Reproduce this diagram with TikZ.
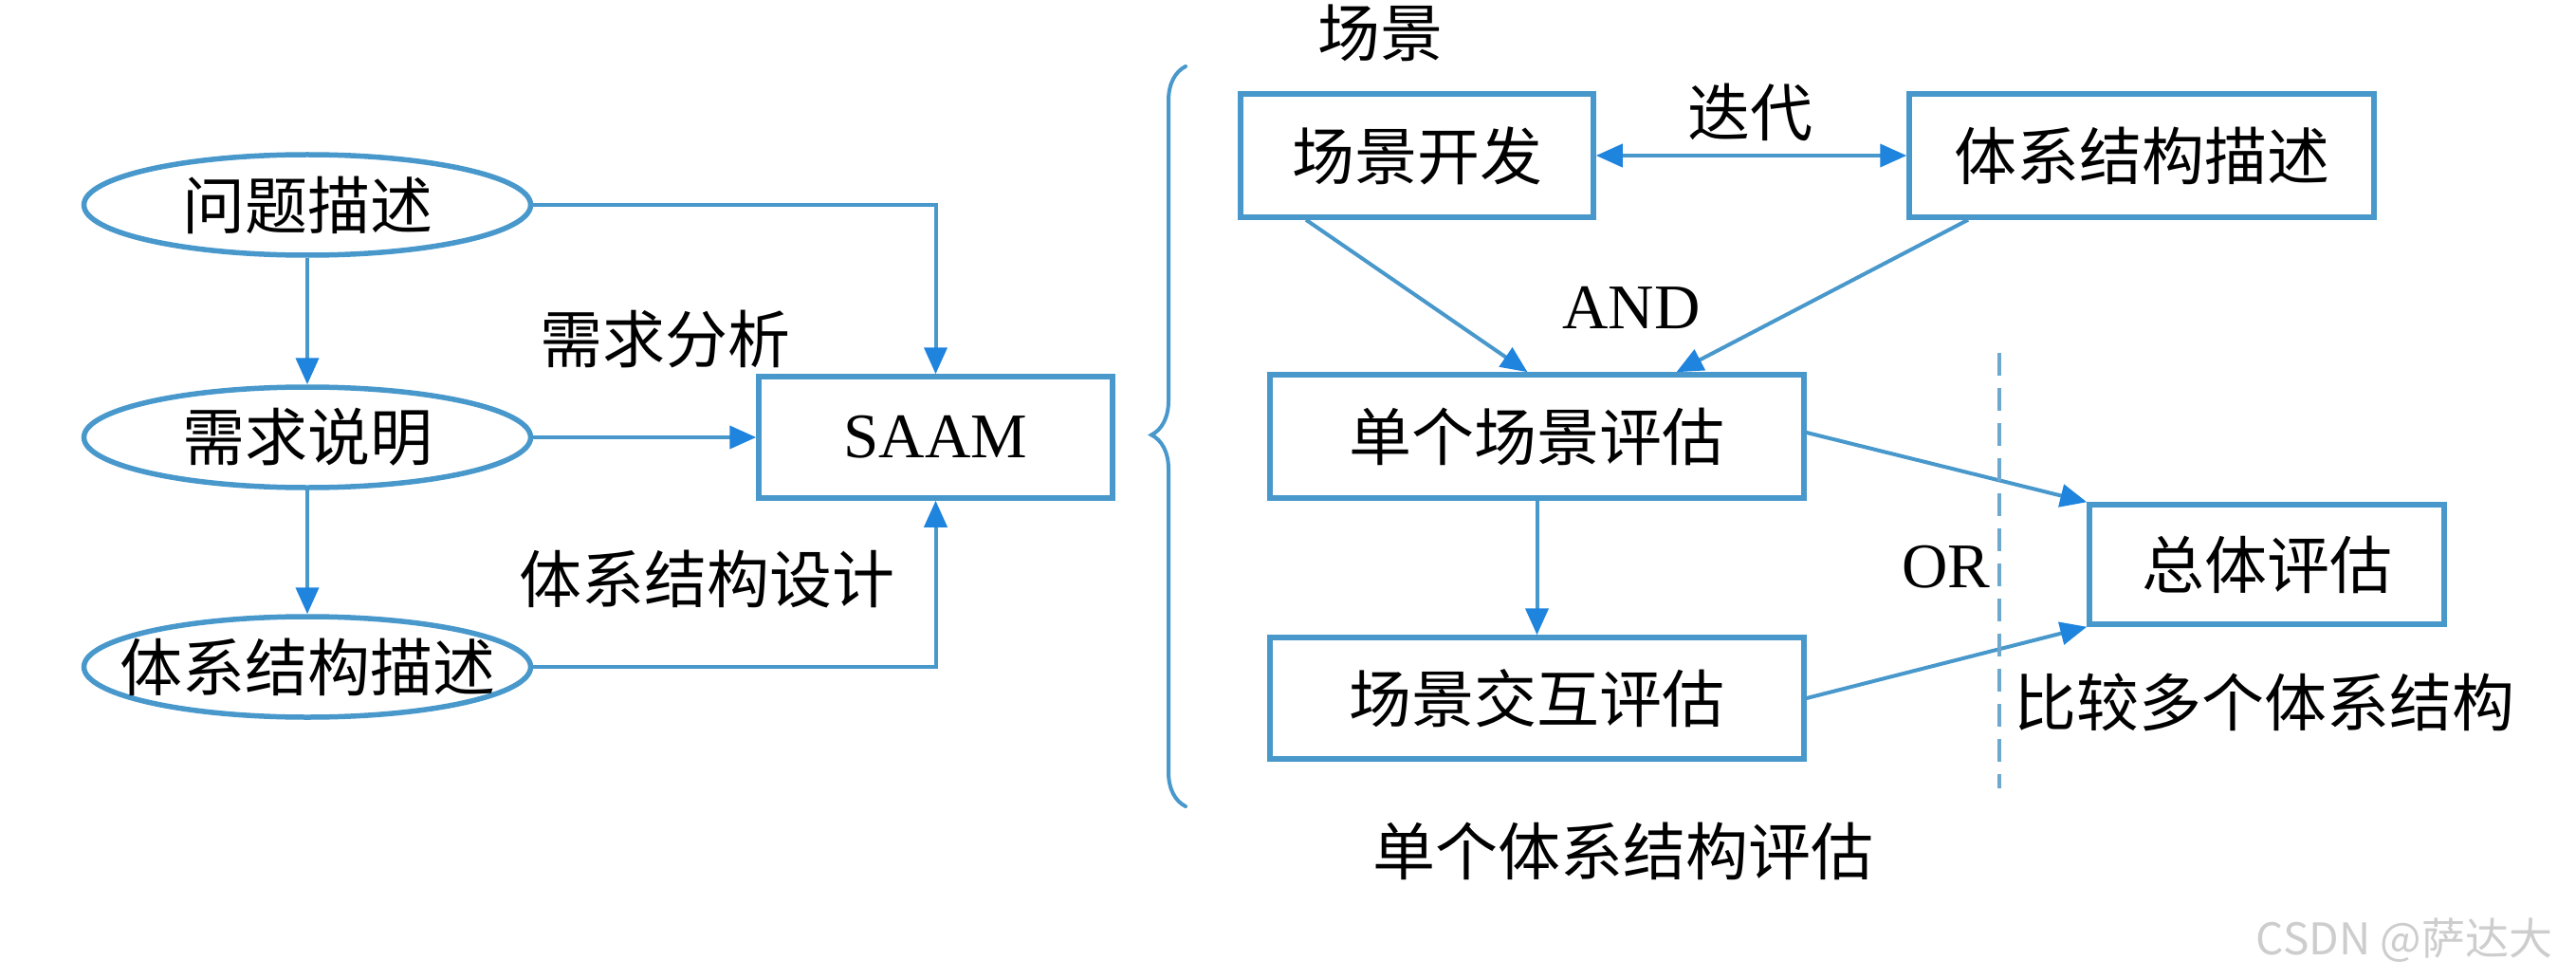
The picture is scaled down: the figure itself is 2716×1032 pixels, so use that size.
\documentclass[tikz,border=0pt]{standalone}
\usepackage{fontspec}
\setmainfont{Liberation Serif}
\newfontfamily\cjk{Noto Sans CJK SC}
\usetikzlibrary{arrows.meta,shapes.geometric,decorations.pathreplacing}
\definecolor{lineblue}{RGB}{72,152,204}
\definecolor{tipblue}{RGB}{30,132,222}
\definecolor{dashblue}{RGB}{110,168,206}
\definecolor{wmgray}{RGB}{205,205,205}
\tikzset{
  box/.style={draw=lineblue, line width=5.5pt, rectangle, inner sep=0pt, font=\cjk\fontsize{66}{70}\selectfont},
  oval/.style={draw=lineblue, line width=5.5pt, ellipse, inner sep=0pt, minimum width=471pt, minimum height=106pt},
  lbl/.style={inner sep=0pt, font=\cjk\fontsize{66}{70}\selectfont},
  latin/.style={inner sep=0pt, font=\fontsize{67}{70}\selectfont},
  arr/.style={draw=lineblue, line width=4pt, -{Triangle[length=28pt,width=24pt,color=tipblue]}},
  darr/.style={draw=lineblue, line width=4pt, {Triangle[length=28pt,width=24pt,color=tipblue]}-{Triangle[length=28pt,width=24pt,color=tipblue]}},
}
\begin{document}
\begin{tikzpicture}[x=1pt,y=-1pt]
\useasboundingbox (0,0) rectangle (2716,1032);
\fill[white] (0,0) rectangle (2716,1032);
% left part
\node[oval] (q) at (324,216) {};
\node[lbl] (qt) at (q.center) {问题描述};
\node[oval] (r) at (324,461) {};
\node[lbl] (rt) at (r.center) {需求说明};
\node[oval] (a) at (324,703) {};
\node[lbl] (at) at (a.center) {体系结构描述};
\node[box, minimum width=373pt, minimum height=128pt, font=\fontsize{67}{70}\selectfont] (saam) at (986.5,461) {SAAM};
\draw[arr] (q.south) -- (r.north);
\draw[arr] (r.south) -- (a.north);
\draw[arr] (q.east) -| (saam.north);
\draw[arr] (r.east) -- (saam.west);
\draw[arr] (a.east) -| (saam.south);
\node[lbl] (l1) at (701,358) {需求分析};
\node[lbl] (l2) at (745,610) {体系结构设计};
% brace
\coordinate (bb) at (1250,850);
\coordinate (bt) at (1250,70);
\draw[draw=lineblue, line width=4pt, line cap=round, decorate, decoration={brace, amplitude=36pt, aspect=0.502}] (bb) -- (bt);
\node[lbl] (l3) at (1455,35) {场景};
% right part
\node[box, minimum width=372pt, minimum height=130pt] (s1) at (1494,164) {场景开发};
\node[box, minimum width=490pt, minimum height=130pt] (s2) at (2258,164) {体系结构描述};
\node[box, minimum width=563pt, minimum height=130pt] (s3) at (1620.5,460) {单个场景评估};
\node[box, minimum width=563pt, minimum height=128pt] (s4) at (1620.5,736) {场景交互评估};
\node[box, minimum width=374pt, minimum height=126pt] (s5) at (2390,595) {总体评估};
\draw[darr] (s1.east) -- (s2.west);
\node[lbl] (l4) at (1845,118) {迭代};
\draw[arr] ([xshift=-117pt]s1.south) -- ([xshift=-10pt]s3.north);
\draw[arr] ([xshift=-183pt]s2.south) -- ([xshift=147pt]s3.north);
\node[latin] (and) at (1720,324) {AND};
\draw[arr] (s3.south) -- (s4.north);
\draw[arr] ([yshift=4pt]s3.east) -- (s5.north west);
\draw[arr] (s4.east) -- (s5.south west);
\coordinate (dt) at (2108,372);
\coordinate (db) at (2108,831);
\draw[draw=dashblue, line width=4pt, dash pattern=on 24pt off 13pt] (dt) -- (db);
\node[latin] (or) at (2052,598) {OR};
\node[lbl] (l5) at (2387,740) {比较多个体系结构};
\node[lbl] (l6) at (1711,897) {单个体系结构评估};
\node[inner sep=0pt, text=wmgray, font=\cjk\fontsize{46}{50}\selectfont] (wm) at (2535,991) {CSDN @萨达大};
\end{tikzpicture}
\end{document}
